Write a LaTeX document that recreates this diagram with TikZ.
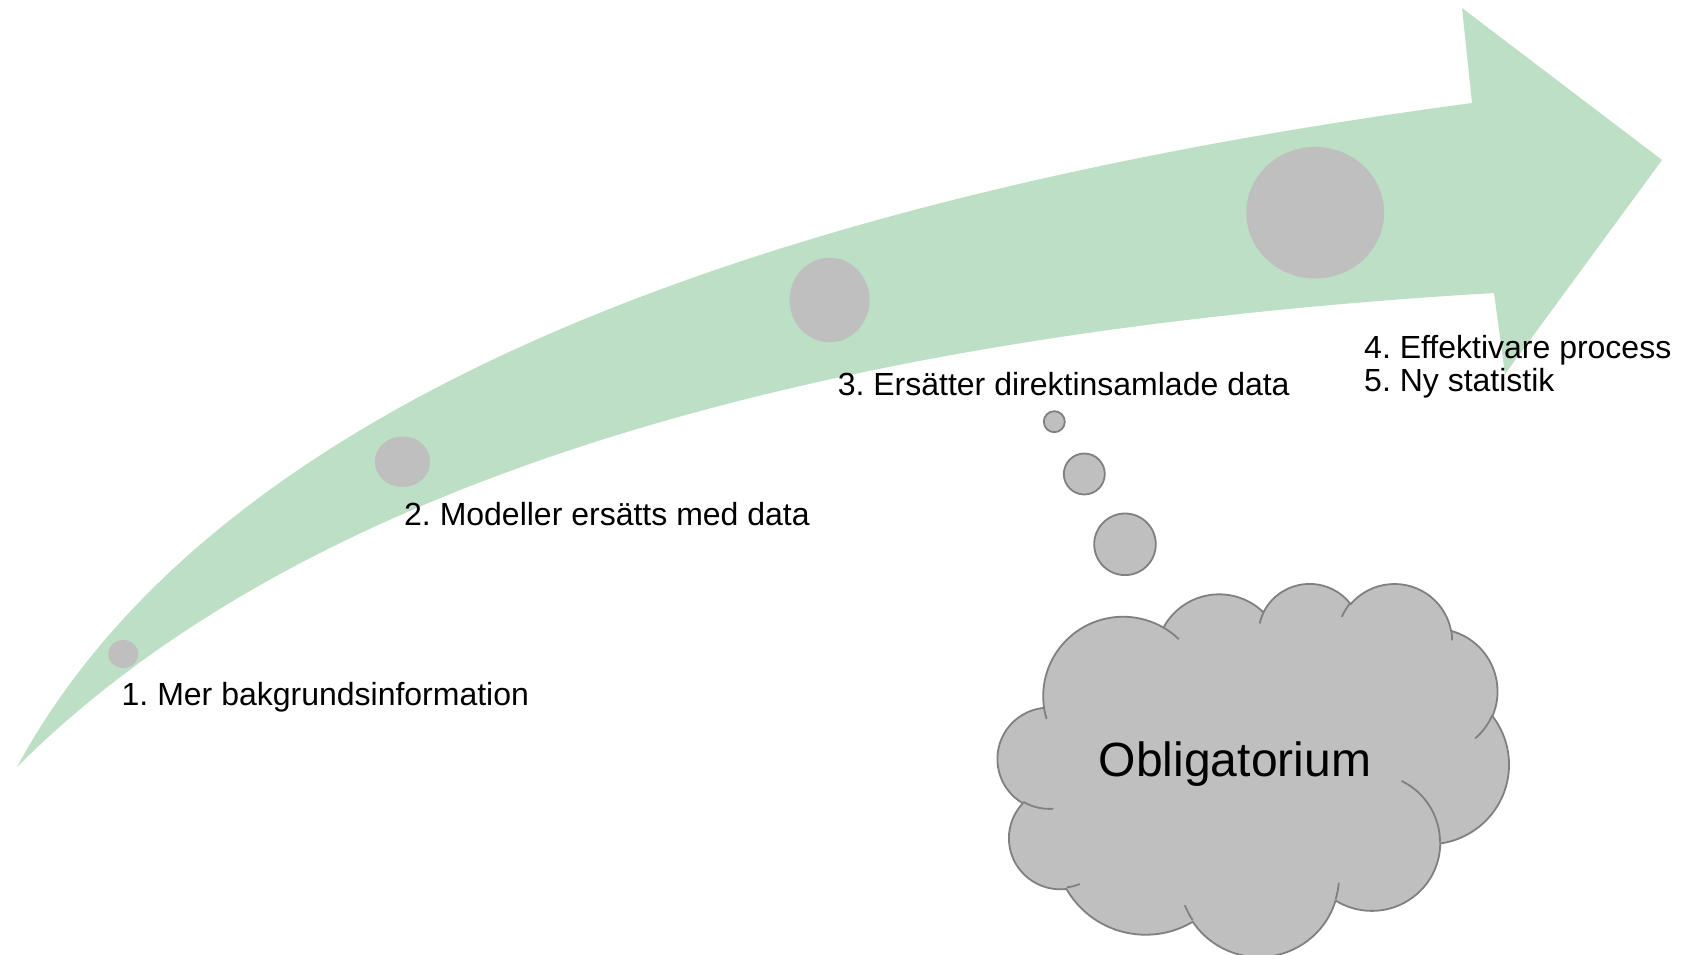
\documentclass[tikz,border=0pt]{standalone}
\usepackage{fontspec}
\setmainfont{Liberation Sans}
\frenchspacing
\definecolor{swoosh}{RGB}{189,223,197}
\definecolor{dotgray}{RGB}{191,191,191}
\definecolor{linegray}{RGB}{128,128,128}
% visual (OOXML) angles -> parametric start angle and delta
\newcommand\cldprep[5]{%
  \pgfmathsetmacro\cldtmpa{atan2((#2)*sin(#4),(#3)*cos(#4))}%
  \pgfmathsetmacro\cldtmpb{atan2((#2)*sin((#4)+(#5)),(#3)*cos((#4)+(#5)))}%
  \pgfmathsetmacro\cldtmpd{\cldtmpb-\cldtmpa}%
  \pgfmathsetmacro\cldtmpd{\cldtmpd-360*round((\cldtmpd-(#5))/360)}%
  \expandafter\let\csname cld#1s\endcsname\cldtmpa
  \expandafter\let\csname cld#1d\endcsname\cldtmpd}
\newcommand\carc[3]{arc[start angle=\csname cld#1s\endcsname, delta angle=\csname cld#1d\endcsname, x radius=#2, y radius=#3]}
\begin{document}
\begin{tikzpicture}[x=1pt,y=-1pt,
  lbl/.style={font=\fontsize{32}{38}\selectfont\frenchspacing, anchor=base west, inner sep=0pt},
  dot/.style={fill=dotgray, draw=none},
  bubble/.style={fill=dotgray, draw=linegray, line width=1.8pt},
  cloudfill/.style={fill=dotgray, draw=linegray, line width=1.8pt, line join=round},
  cloudline/.style={draw=linegray, line width=1.8pt, fill=none}]
\useasboundingbox (0,0) rectangle (1686,955);
% swoosh arrow
\fill[swoosh] (17,767) .. controls (199.67,429.67) and (684.67,208.33) .. (1472,103)
  -- (1462,8) -- (1662,160) -- (1505,374) -- (1494,293)
  .. controls (783.33,335) and (291,493) .. (17,767) -- cycle;
% dots on the arrow
\fill[dot] (123.2,654) ellipse [x radius=15, y radius=14];
\fill[dot] (402.5,461.7) ellipse [x radius=27.7, y radius=25.3];
\fill[dot] (829.6,300) ellipse [x radius=40, y radius=42.3];
\fill[dot] (1315.2,212.7) ellipse [x radius=68.9, y radius=65.8];
% labels
\node[lbl] (l1) at (121.5,705) {1. Mer bakgrundsinformation};
\node[lbl] (l2) at (404,525) {2. Modeller ersätts med data};
\node[lbl] (l3) at (837.6,395) {3. Ersätter direktinsamlade data};
\node[lbl] (l4) at (1364,358.3) {4. Effektivare process};
\node[lbl] (l5) at (1364,391.7) {5. Ny statistik};
% thought bubbles
\draw[bubble] (1054.3,421.7) circle [radius=10.5];
\draw[bubble] (1084.3,474) circle [radius=20.5];
\draw[bubble] (1125,544.3) circle [radius=30.8];
% cloud (OOXML cloud geometry, path units /10)
\cldprep{A}{675.3}{919.0}{-190.4875}{123.7805}
\cldprep{B}{533.3}{726.7}{-144.1024}{89.9452}
\cldprep{C}{436.5}{594.5}{-145.8079}{99.7230}
\cldprep{D}{485.7}{659.5}{-130.9861}{117.2417}
\cldprep{E}{533.3}{727.3}{-78.7089}{109.0269}
\cldprep{F}{677.5}{922.0}{-46.2673}{130.2690}
\cldprep{G}{578.5}{786.7}{0.6250}{114.0333}
\cldprep{H}{675.2}{921.5}{22.4516}{115.1726}
\cldprep{I}{772.0}{1054.3}{66.2426}{75.7110}
\cldprep{J}{436.0}{591.8}{-274.9421}{146.7356}
\cldprep{K}{434.5}{594.5}{-246.8285}{152.5189}
\cldprep{a}{434.5}{594.5}{86.7420}{26.4295}
\cldprep{b}{436.0}{591.8}{73.6105}{11.4475}
\cldprep{c}{675.2}{921.5}{137.6242}{14.0811}
\cldprep{d}{675.2}{921.5}{6.4533}{15.9984}
\cldprep{e}{578.5}{786.7}{-70.2924}{70.9174}
\cldprep{f}{533.3}{727.3}{30.3180}{27.7515}
\cldprep{g}{485.7}{659.5}{-13.7443}{14.8589}
\cldprep{h}{485.7}{659.5}{-149.1815}{18.1954}
\cldprep{i}{436.5}{594.5}{-163.4943}{17.6864}
\cldprep{j}{675.3}{919.0}{-66.7070}{12.3194}
\cldprep{k}{675.3}{919.0}{157.6544}{11.8582}
\begin{scope}[shift={(997.8,582.7)}, x=0.118287pt, y=-0.086343pt]
\path[cloudfill] (390,1437) \carc{A}{675.3}{919.0} \carc{B}{533.3}{726.7}
  \carc{C}{436.5}{594.5} \carc{D}{485.7}{659.5} \carc{E}{533.3}{727.3}
  \carc{F}{677.5}{922.0} \carc{G}{578.5}{786.7} \carc{H}{675.2}{921.5}
  \carc{I}{772.0}{1054.3} \carc{J}{436.0}{591.8} \carc{K}{434.5}{594.5} -- cycle;
\path[cloudline] (469.3,2617.7) \carc{a}{434.5}{594.5}
  (692.8,3489.9) \carc{b}{436.0}{591.8}
  (1647.8,3909.0) \carc{c}{675.2}{921.5}
  (2882.7,3475.1) \carc{d}{675.2}{921.5}
  (3412.9,2295.4) \carc{e}{578.5}{786.7}
  (4179.8,1535.4) \carc{f}{533.3}{727.3}
  (3832.4,542.6) \carc{g}{485.7}{659.5}
  (2907.8,395.2) \carc{h}{485.7}{659.5}
  (2214.1,472.0) \carc{i}{436.5}{594.5}
  (1400.0,519.2) \carc{j}{675.3}{919.0}
  (412.7,1578.9) \carc{k}{675.3}{919.0};
\end{scope}
\node[font=\fontsize{48}{58}\selectfont, anchor=base, inner sep=0pt] (ob) at (1235,776.5) {Obligatorium};
\end{tikzpicture}
\end{document}
